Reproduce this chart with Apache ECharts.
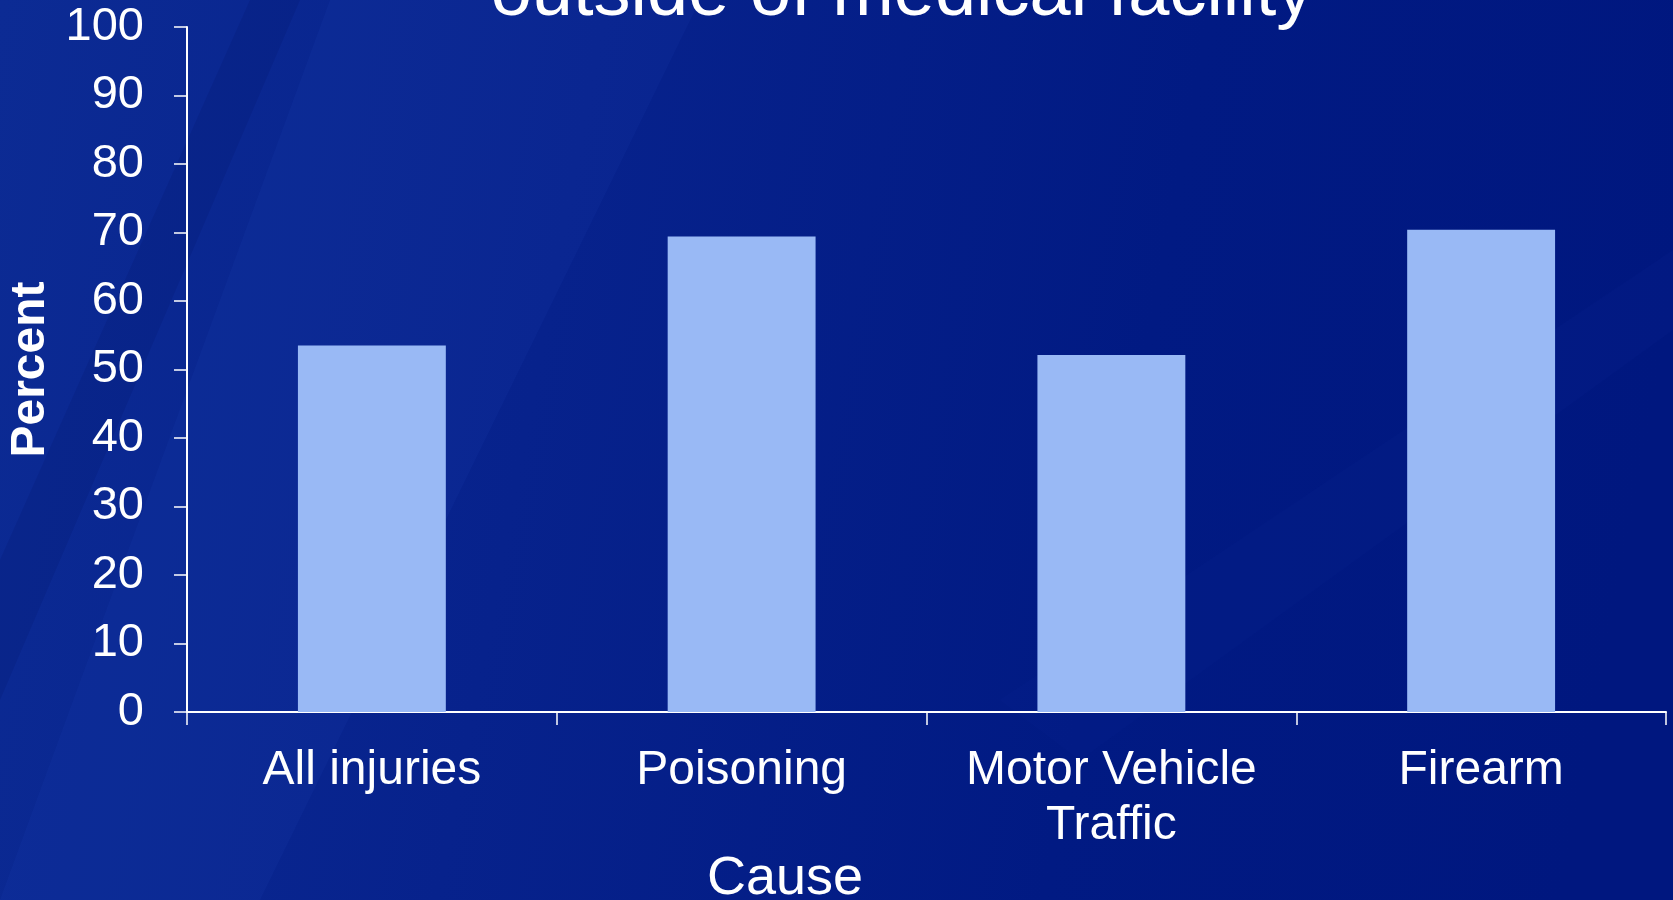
<!DOCTYPE html>
<html>
<head>
<meta charset="utf-8">
<title>Deaths outside of medical facility by cause</title>
<script src="https://cdn.jsdelivr.net/npm/echarts@6/dist/echarts.min.js"></script>
<style>
  html, body { margin: 0; padding: 0; background: #05208c; }
  #chart { width: 1673px; height: 900px; }
</style>
</head>
<body>
<div id="chart"></div>
<script>
// Share of deaths occurring outside of a medical facility, by cause
const causes = ['All injuries', 'Poisoning', 'Motor Vehicle\nTraffic', 'Firearm'];
const percentOutside = [53.5, 69.4, 52.1, 70.4];
const titleLine = 'outside of medical facility';
const yAxisTitle = 'Percent';
const xAxisTitle = 'Cause';

const FONT = '"Liberation Sans", Arial, sans-serif';
const chart = echarts.init(document.getElementById('chart'), null, { renderer: 'canvas' });

chart.setOption({
  backgroundColor: {
    type: 'linear', x: 0, y: 0, x2: 1, y2: 0.35,
    colorStops: [
      { offset: 0, color: '#0c2b94' },
      { offset: 0.35, color: '#07228c' },
      { offset: 0.7, color: '#011a83' },
      { offset: 1, color: '#00177f' }
    ]
  },
  animation: false,
  graphic: [
    // faint diagonal sheen across the backdrop
    {
      type: 'polygon', z: -10, silent: true,
      shape: { points: [[0, 900], [330, 0], [700, 0], [260, 900]] },
      style: { fill: 'rgba(40,80,200,0.10)' }
    },
    {
      type: 'polygon', z: -10, silent: true,
      shape: { points: [[0, 560], [250, 0], [300, 0], [0, 700]] },
      style: { fill: 'rgba(0,10,80,0.12)' }
    },
    {
      type: 'polygon', z: -10, silent: true,
      shape: { points: [[1000, 700], [1673, 250], [1673, 330], [1080, 760]] },
      style: { fill: 'rgba(20,50,170,0.08)' }
    },
    {
      type: 'text', silent: true,
      x: 902, y: 32,
      style: {
        text: titleLine,
        font: '74px ' + FONT,
        fill: '#ffffff',
        align: 'center',
        verticalAlign: 'bottom'
      }
    },
    {
      type: 'text', silent: true,
      x: 785, y: 879,
      style: {
        text: xAxisTitle,
        font: '54px ' + FONT,
        fill: '#ffffff',
        align: 'center',
        verticalAlign: 'middle'
      }
    }
  ],
  grid: { left: 187, right: 7, top: 27, bottom: 188, containLabel: false, outerBoundsMode: 'none' },
  xAxis: {
    type: 'category',
    data: causes,
    axisLine: { show: true, lineStyle: { color: '#ffffff', width: 2 } },
    axisTick: { show: true, alignWithLabel: false, length: 13, lineStyle: { color: '#ffffff', width: 1.5 } },
    axisLabel: {
      color: '#ffffff', fontFamily: FONT, fontSize: 48, lineHeight: 55,
      margin: 31, interval: 0
    },
    splitLine: { show: false }
  },
  yAxis: {
    type: 'value',
    min: 0, max: 100, interval: 10,
    name: yAxisTitle,
    nameLocation: 'middle',
    nameGap: 129,
    nameTextStyle: { color: '#ffffff', fontFamily: FONT, fontSize: 48, fontWeight: 'bold' },
    axisLine: { show: true, lineStyle: { color: '#ffffff', width: 2 } },
    axisTick: { show: true, length: 13, lineStyle: { color: '#ffffff', width: 1.5 } },
    axisLabel: { color: '#ffffff', fontFamily: FONT, fontSize: 47, margin: 43 },
    splitLine: { show: false }
  },
  series: [{
    type: 'bar',
    data: percentOutside,
    barWidth: '40%',
    itemStyle: { color: '#99b9f5' }
  }]
});
</script>
</body>
</html>
